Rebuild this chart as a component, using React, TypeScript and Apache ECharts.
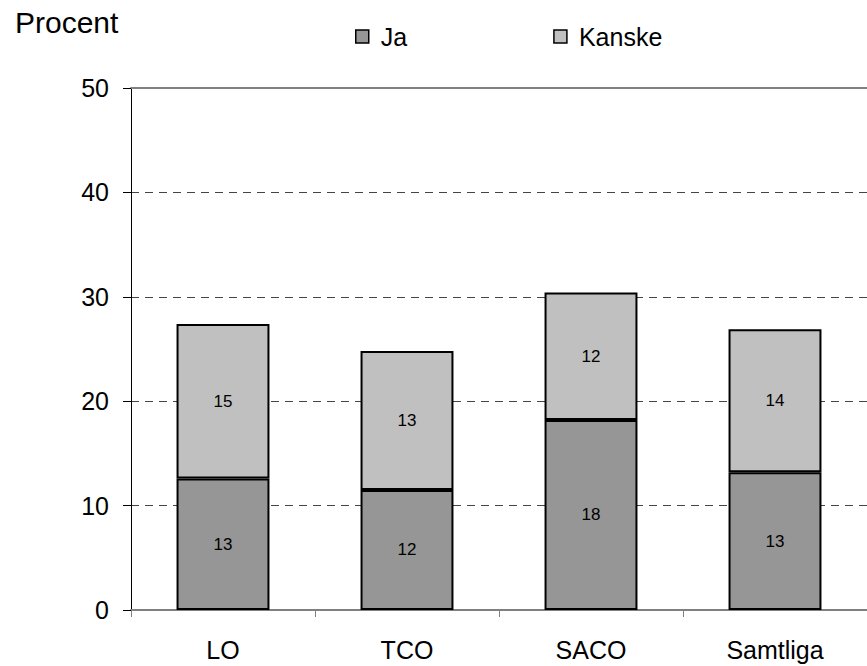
import React, { useEffect, useRef } from "react";
import * as echarts from "echarts";

const categories = ["LO", "TCO", "SACO", "Samtliga"];
const jaValues = [12.6, 11.5, 18.2, 13.2];
const kanskeValues = [14.8, 13.3, 12.2, 13.7];
const yTicks = [0, 10, 20, 30, 40, 50];

export default function App() {
  const ref = useRef<HTMLDivElement>(null);
  useEffect(() => {
    const chart = echarts.init(ref.current!, null, { renderer: "svg" });
    const font = "Liberation Sans, Arial, sans-serif";
    const labelCfg = {
      show: true,
      position: "inside",
      color: "#000",
      fontSize: 17,
      fontFamily: font,
      formatter: (p: any) => String(Math.round(p.value)),
    };
    chart.setOption({
      animation: false,
      backgroundColor: "#fff",
      textStyle: { fontFamily: font },
      grid: { left: 131, top: 88, bottom: 56, right: -16, containLabel: false },
      graphic: [
        {
          type: "text",
          left: 15,
          top: 7,
          style: { text: "Procent", fontSize: 30, fontFamily: font, fill: "#000" },
        },
      ],
      legend: {
        left: 355,
        top: 24,
        padding: 0,
        itemWidth: 13,
        itemHeight: 13,
        itemGap: 146,
        icon: "rect",
        textStyle: { fontSize: 25, fontFamily: font, color: "#000", padding: [0, 0, 12, 7] },
        data: [
          { name: "Ja", itemStyle: { borderColor: "#000", borderWidth: 1.5 } },
          { name: "Kanske", itemStyle: { borderColor: "#000", borderWidth: 1.5 } },
        ],
      },
      xAxis: [
        {
          type: "category",
          data: categories,
          axisLine: { lineStyle: { color: "#808080", width: 2 } },
          axisTick: { show: true, length: 7, lineStyle: { color: "#808080", width: 1 } },
          axisLabel: { fontSize: 25, color: "#000", margin: 27, fontFamily: font },
        },
        {
          type: "category",
          data: categories,
          position: "top",
          axisLine: { lineStyle: { color: "#808080", width: 2 } },
          axisTick: { show: false },
          axisLabel: { show: false },
        },
      ],
      yAxis: {
        type: "value",
        min: 0,
        max: yTicks[yTicks.length - 1],
        interval: yTicks[1] - yTicks[0],
        axisLine: { show: true, lineStyle: { color: "#000", width: 1 } },
        axisTick: { show: true, length: 8, lineStyle: { color: "#000" } },
        axisLabel: { fontSize: 25, color: "#000", margin: 22, fontFamily: font },
        splitLine: { show: true, lineStyle: { color: "#444", type: [8, 6], width: 1 } },
      },
      series: [
        {
          name: "Ja",
          type: "bar",
          stack: "s",
          barWidth: "50.5%",
          data: jaValues,
          itemStyle: { color: "#969696", borderColor: "#000", borderWidth: 2 },
          label: labelCfg,
        },
        {
          name: "Kanske",
          type: "bar",
          stack: "s",
          barWidth: "50.5%",
          data: kanskeValues,
          itemStyle: { color: "#c0c0c0", borderColor: "#000", borderWidth: 2 },
          label: labelCfg,
        },
      ],
    });
    return () => chart.dispose();
  }, []);
  return (
    <div style={{ position: "fixed", left: 0, top: 0, width: 867, height: 666, overflow: "hidden", background: "#fff" }}>
      <div ref={ref} style={{ width: 867, height: 666 }} />
    </div>
  );
}
